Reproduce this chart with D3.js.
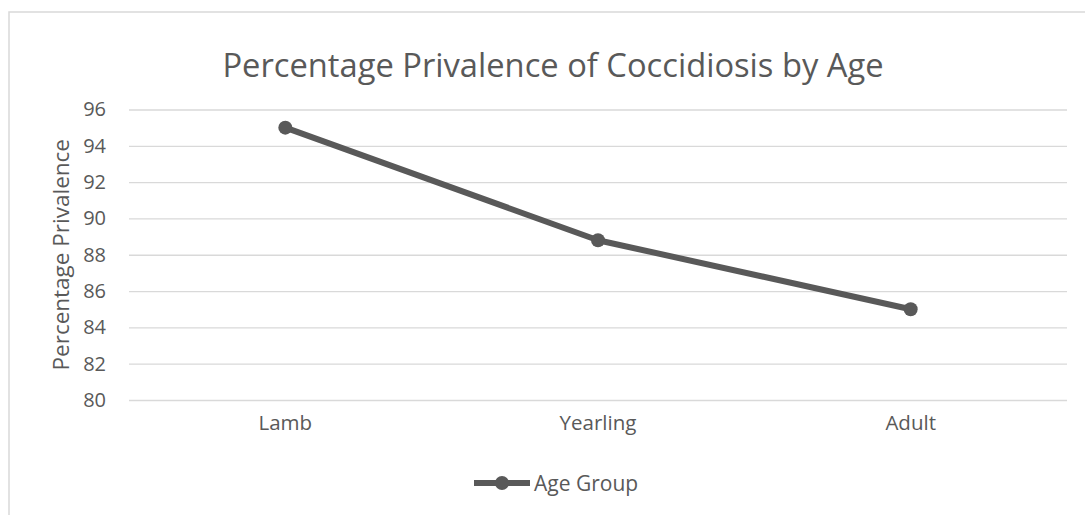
<!DOCTYPE html>
<html>
<head>
<meta charset="utf-8">
<script src="https://cdn.jsdelivr.net/npm/d3@7"></script>
<style>
  html, body { margin: 0; padding: 0; background: #fff; }
  svg { display: block; font-family: "Open Sans", sans-serif; }
</style>
</head>
<body>
<div id="chart"></div>
<script>
// chart data
var categories = ["Lamb", "Yearling", "Adult"];
var prevalence = [95, 88.8, 85];
var yTicks = [80, 82, 84, 86, 88, 90, 92, 94, 96];
var seriesName = "Age Group";
var chartTitle = "Percentage Privalence of Coccidiosis by Age";
var yTitle = "Percentage Privalence";

var w = 1085,
    h = 515;

var ink = "#595959",
    grid = "#d9d9d9";

var svg = d3.select("#chart")
    .append("svg")
    .attr("width", w)
    .attr("height", h);

// chart frame (runs off the right and bottom edge)
svg.append("rect")
    .attr("x", 9)
    .attr("y", 12)
    .attr("width", w + 20)
    .attr("height", h + 20)
    .style("fill", "none")
    .style("stroke", grid)
    .style("stroke-width", 1.5);

var plot = { left: 129, right: 1067, top: 109.5, bottom: 400 };

var x = d3.scaleBand()
    .domain(categories)
    .range([plot.left, plot.right]);

var y = d3.scaleLinear()
    .domain([80, 96])
    .range([plot.bottom, plot.top]);

// gridlines + y labels
var yAxis = d3.axisLeft(y)
    .tickValues(yTicks)
    .tickSizeInner(-(plot.right - plot.left))
    .tickSizeOuter(0)
    .tickPadding(23);

var gy = svg.append("g")
    .attr("transform", "translate(" + plot.left + ",0)")
    .call(yAxis);
gy.select(".domain").remove();
gy.selectAll("line").style("stroke", grid).style("stroke-width", 1.3);
gy.selectAll("text")
    .style("fill", ink)
    .style("font-size", "20px")
    .style("font-family", "Open Sans");

// category labels
var xAxis = d3.axisBottom(x).tickSize(0).tickPadding(15);
var gx = svg.append("g")
    .attr("transform", "translate(0," + plot.bottom + ")")
    .call(xAxis);
gx.select(".domain").remove();
gx.selectAll("text")
    .style("fill", ink)
    .style("font-size", "20.5px")
    .style("font-family", "Open Sans");

// series line
var pts = categories.map(function(c, i) { return { cat: c, val: prevalence[i] }; });

var line = d3.line()
    .x(function(d) { return x(d.cat) + x.bandwidth() / 2; })
    .y(function(d) { return y(d.val); });

svg.append("path")
    .datum(pts)
    .attr("d", line)
    .style("fill", "none")
    .style("stroke", ink)
    .style("stroke-width", 6)
    .style("stroke-linejoin", "round");

svg.selectAll(".dot")
    .data(pts)
    .enter().append("circle")
    .attr("class", "dot")
    .attr("cx", function(d) { return x(d.cat) + x.bandwidth() / 2; })
    .attr("cy", function(d) { return y(d.val); })
    .attr("r", 7)
    .style("fill", ink);

// title
svg.append("text")
    .attr("x", 553)
    .attr("y", 77)
    .attr("text-anchor", "middle")
    .style("font-size", "32.7px")
    .style("fill", ink)
    .text(chartTitle);

// y axis title
svg.append("text")
    .attr("transform", "translate(69," + ((plot.top + plot.bottom) / 2) + ") rotate(-90)")
    .attr("text-anchor", "middle")
    .style("font-size", "22.5px")
    .style("fill", ink)
    .text(yTitle);

// legend
var lg = svg.append("g").attr("transform", "translate(474,483)");
lg.append("line")
    .attr("x1", 0).attr("x2", 56)
    .attr("y1", 0).attr("y2", 0)
    .style("stroke", ink)
    .style("stroke-width", 6);
lg.append("circle")
    .attr("cx", 28).attr("cy", 0).attr("r", 7)
    .style("fill", ink);
lg.append("text")
    .attr("x", 60)
    .attr("y", 8)
    .style("font-size", "21px")
    .style("fill", ink)
    .text(seriesName);
</script>
</body>
</html>
